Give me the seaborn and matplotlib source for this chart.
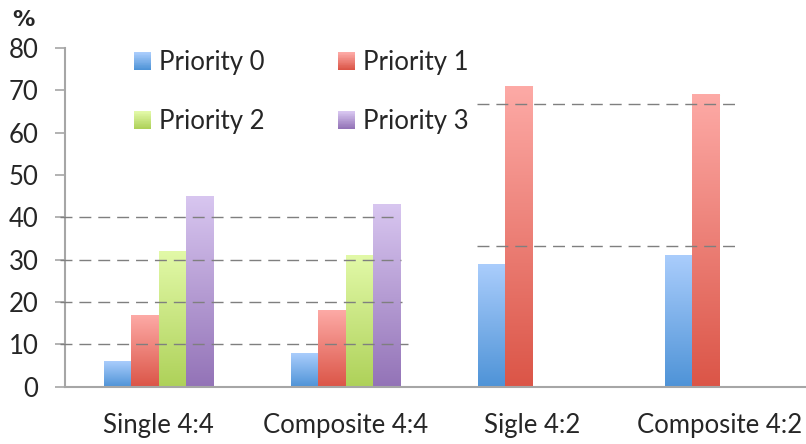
import numpy as np
import pandas as pd
import matplotlib
matplotlib.use("Agg")
import matplotlib.pyplot as plt
import seaborn as sns
from matplotlib.colors import LinearSegmentedColormap
from matplotlib.legend_handler import HandlerBase
from matplotlib.patches import Rectangle, Patch

# --- data -------------------------------------------------------------
categories = ["Single 4:4", "Composite 4:4", "Sigle 4:2", "Composite 4:2"]
priorities = ["Priority 0", "Priority 1", "Priority 2", "Priority 3"]
priority0 = [6, 8, 29, 31]
priority1 = [17, 18, 71, 69]
priority2 = [32, 31, np.nan, np.nan]
priority3 = [45, 43, np.nan, np.nan]
y_ticks = [0, 10, 20, 30, 40, 50, 60, 70, 80]
ref_left = [10, 20, 30, 40]          # dashed reference levels over the 4:4 groups
ref_right = [100 / 3, 200 / 3]       # dashed reference levels over the 4:2 groups

# gradient colours per priority (top, bottom)
grad = {
    "Priority 0": ("#aacdfc", "#4e93d7"),
    "Priority 1": ("#fdaaa6", "#db5547"),
    "Priority 2": ("#e2f9a8", "#aed159"),
    "Priority 3": ("#d8c6f0", "#9373b7"),
}

rows = []
for p, vals in zip(priorities, [priority0, priority1, priority2, priority3]):
    for c, v in zip(categories, vals):
        rows.append({"category": c, "priority": p, "value": v})
df = pd.DataFrame(rows)

# --- figure -----------------------------------------------------------
sns.set_style("white")
plt.rcParams["font.family"] = ["Lato", "DejaVu Sans"]
FS = 18.5

fig = plt.figure(figsize=(8.06, 4.44), dpi=100)
ax = fig.add_axes([65 / 806, 57.3 / 444, 748 / 806, 338.7 / 444])

mid_colors = {p: grad[p][1] for p in priorities}
sns.barplot(data=df, x="category", y="value", hue="priority",
            order=categories, hue_order=priorities, palette=mid_colors,
            saturation=1, width=0.58, errorbar=None, legend=False, ax=ax, zorder=2)

ax.set_xlim(-0.5, 3.5)
ax.set_ylim(0, 80)

# vertical gradient fill on every bar (one container per priority)
for p, container in zip(priorities, ax.containers):
    top, bottom = grad[p]
    cmap = LinearSegmentedColormap.from_list("g", [bottom, top])
    for bar in container:
        h = bar.get_height()
        if not np.isfinite(h) or h <= 0:
            continue
        x0, w, y0 = bar.get_x(), bar.get_width(), bar.get_y()
        # faint drop shadow
        ax.add_patch(Rectangle((x0 + w * 0.06, y0), w, h, facecolor="#000000",
                               alpha=0.10, edgecolor="none", zorder=1.5))
        ax.imshow(np.linspace(0, 1, 256).reshape(-1, 1), cmap=cmap, origin="lower",
                  extent=[x0, x0 + w, y0, y0 + h], aspect="auto", zorder=2.5,
                  interpolation="bilinear")

ax.set_xlim(-0.5, 3.5)
ax.set_ylim(0, 80)

# dashed reference lines
dash = dict(color="#7f7f7f", lw=1.0, linestyle=(0, (8.6, 5.0)), zorder=4, clip_on=False)
left_ends = [1.334, 1.30, 1.297, 1.292]
for y, xe in zip(ref_left, left_ends):
    ax.plot([-0.527, xe], [y, y], **dash)
for y in ref_right:
    ax.plot([1.703, 3.094], [y, y], **dash)

# axes styling
for s in ["top", "right"]:
    ax.spines[s].set_visible(False)
for s in ["left", "bottom"]:
    ax.spines[s].set_color("#a6a6a6")
    ax.spines[s].set_linewidth(1.5)
ax.set_yticks(y_ticks)
ax.tick_params(axis="y", direction="out", length=7.2, width=1.2, color="#a6a6a6",
               labelsize=FS, pad=12, left=True)
ax.tick_params(axis="x", length=0, labelsize=FS, pad=19)
ax.set_xlabel("")
ax.set_ylabel("")
fig.text(12 / 806, 1 - 20 / 444, "%", fontsize=16, fontweight="heavy",
         family="DejaVu Sans", va="center", ha="left")

# legend with gradient squares
class GradientSquare(HandlerBase):
    def __init__(self, top, bottom, n=24):
        super().__init__()
        self.top, self.bottom, self.n = top, bottom, n

    def create_artists(self, legend, orig_handle, xdescent, ydescent,
                       width, height, fontsize, trans):
        cmap = LinearSegmentedColormap.from_list("g", [self.bottom, self.top])
        side = height
        arts = []
        for i in range(self.n):
            arts.append(Rectangle((-xdescent, -ydescent + side * i / self.n), side,
                                  side / self.n * 1.05,
                                  facecolor=cmap(i / (self.n - 1)), edgecolor="none",
                                  transform=trans))
        return arts

# two columns filled column-wise: (0, 2) then (1, 3) so rows read 0 1 / 2 3
legend_order = ["Priority 0", "Priority 2", "Priority 1", "Priority 3"]
handles = [Patch(label=p) for p in legend_order]
hmap = {h: GradientSquare(*grad[p]) for h, p in zip(handles, legend_order)}
ax.legend(handles=handles, labels=legend_order, handler_map=hmap, ncol=2,
          frameon=False, loc="upper left", bbox_to_anchor=(0.0785, 1.024),
          fontsize=FS, handlelength=0.66, handleheight=0.66, handletextpad=0.31,
          labelspacing=1.32, columnspacing=2.85, borderaxespad=0)

fig.savefig("out.png", dpi=100)
